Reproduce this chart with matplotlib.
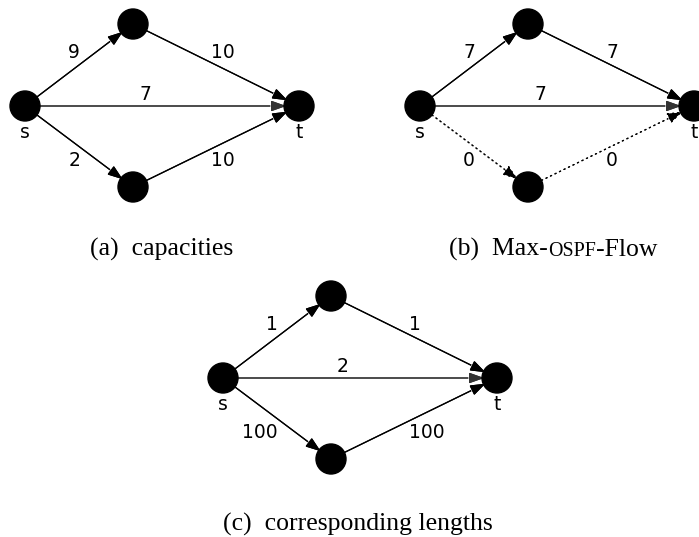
import matplotlib
matplotlib.use("Agg")
import numpy as np
import matplotlib.pyplot as plt
import matplotlib.patheffects as pe
from matplotlib.patches import Circle, FancyArrowPatch

# graph layout (offsets from node s, in pixels)
node_names = ["s", "u", "v", "t"]
node_dx = [0, 108, 108, 274]
node_dy = [0, -82, 81, 0]
edges = [(0, 1), (1, 3), (0, 3), (0, 2), (2, 3)]
label_dx = [55, 186, 120, 55, 186]
label_dy = [-53, -53, -12, 54, 54]
label_ha = ["right", "left", "center", "right", "left"]

# the three panels
panel_origin = [(25, 106), (420, 106), (223, 378)]
capacities = [9, 10, 7, 2, 10]
ospf_flow = [7, 7, 7, 0, 0]
lengths = [1, 1, 2, 100, 100]
panel_values = [capacities, ospf_flow, lengths]
dotted_zero = [False, True, False]
caption_x = [162, 553, 358]
caption_y = [256, 256, 531]

R = 15

fig = plt.figure(figsize=(6.99, 5.37), dpi=100)
ax = fig.add_axes([0, 0, 1, 1])
ax.set_xlim(0, 699)
ax.set_ylim(537, 0)
ax.axis("off")

for (ox, oy), vals, dz in zip(panel_origin, panel_values, dotted_zero):
    px = [ox + d for d in node_dx]
    py = [oy + d for d in node_dy]
    for k, (a, b) in enumerate(edges):
        x0, y0, x1, y1 = px[a], py[a], px[b], py[b]
        L = np.hypot(x1 - x0, y1 - y0)
        ux, uy = (x1 - x0) / L, (y1 - y0) / L
        start = (x0 + ux * R, y0 + uy * R)
        end = (x1 - ux * (R - 2), y1 - uy * (R - 2))
        ls = (0, (1, 3)) if (dz and vals[k] == 0) else "-"
        col = "#333333" if a == 0 and b == 3 else "black"
        arr = FancyArrowPatch(start, end,
                              arrowstyle="-|>,head_length=0.45,head_width=0.16",
                              mutation_scale=20, lw=0.9, color=col, linestyle=ls,
                              shrinkA=0, shrinkB=0, zorder=2)
        arr.set_path_effects([pe.withStroke(linewidth=1.8, foreground="white"), pe.Normal()])
        ax.add_patch(arr)
        ax.text(ox + label_dx[k], oy + label_dy[k], str(vals[k]), fontsize=13.5,
                family="DejaVu Sans", ha=label_ha[k], va="center")
    for x, y in zip(px, py):
        ax.add_patch(Circle((x, y), R, color="black", zorder=3))
    ax.text(px[0], py[0] + 27, "s", fontsize=13.5, family="DejaVu Sans",
            ha="center", va="center")
    ax.text(px[3], py[3] + 27, "t", fontsize=13.5, family="DejaVu Sans",
            ha="center", va="center")

cap_size = 18.5
serif = "Liberation Serif"
ax.text(caption_x[0], caption_y[0], "(a)  capacities", fontsize=cap_size,
        family=serif, ha="center", va="baseline")
ax.text(caption_x[2], caption_y[2], "(c)  corresponding lengths", fontsize=cap_size,
        family=serif, ha="center", va="baseline")

# caption (b) with small caps for OSPF
parts = [("(b)  Max-", 1.0), ("OSPF", 0.78), ("-Flow", 1.0)]
pieces = [ax.text(0, caption_y[1], s, fontsize=cap_size * sc, family=serif,
                  ha="left", va="baseline") for s, sc in parts]
fig.canvas.draw()
rend = fig.canvas.get_renderer()
widths = [t.get_window_extent(rend).width for t in pieces]
x = caption_x[1] - sum(widths) / 2
for t, w in zip(pieces, widths):
    t.set_x(x)
    x += w

fig.savefig("out.png", dpi=100)
